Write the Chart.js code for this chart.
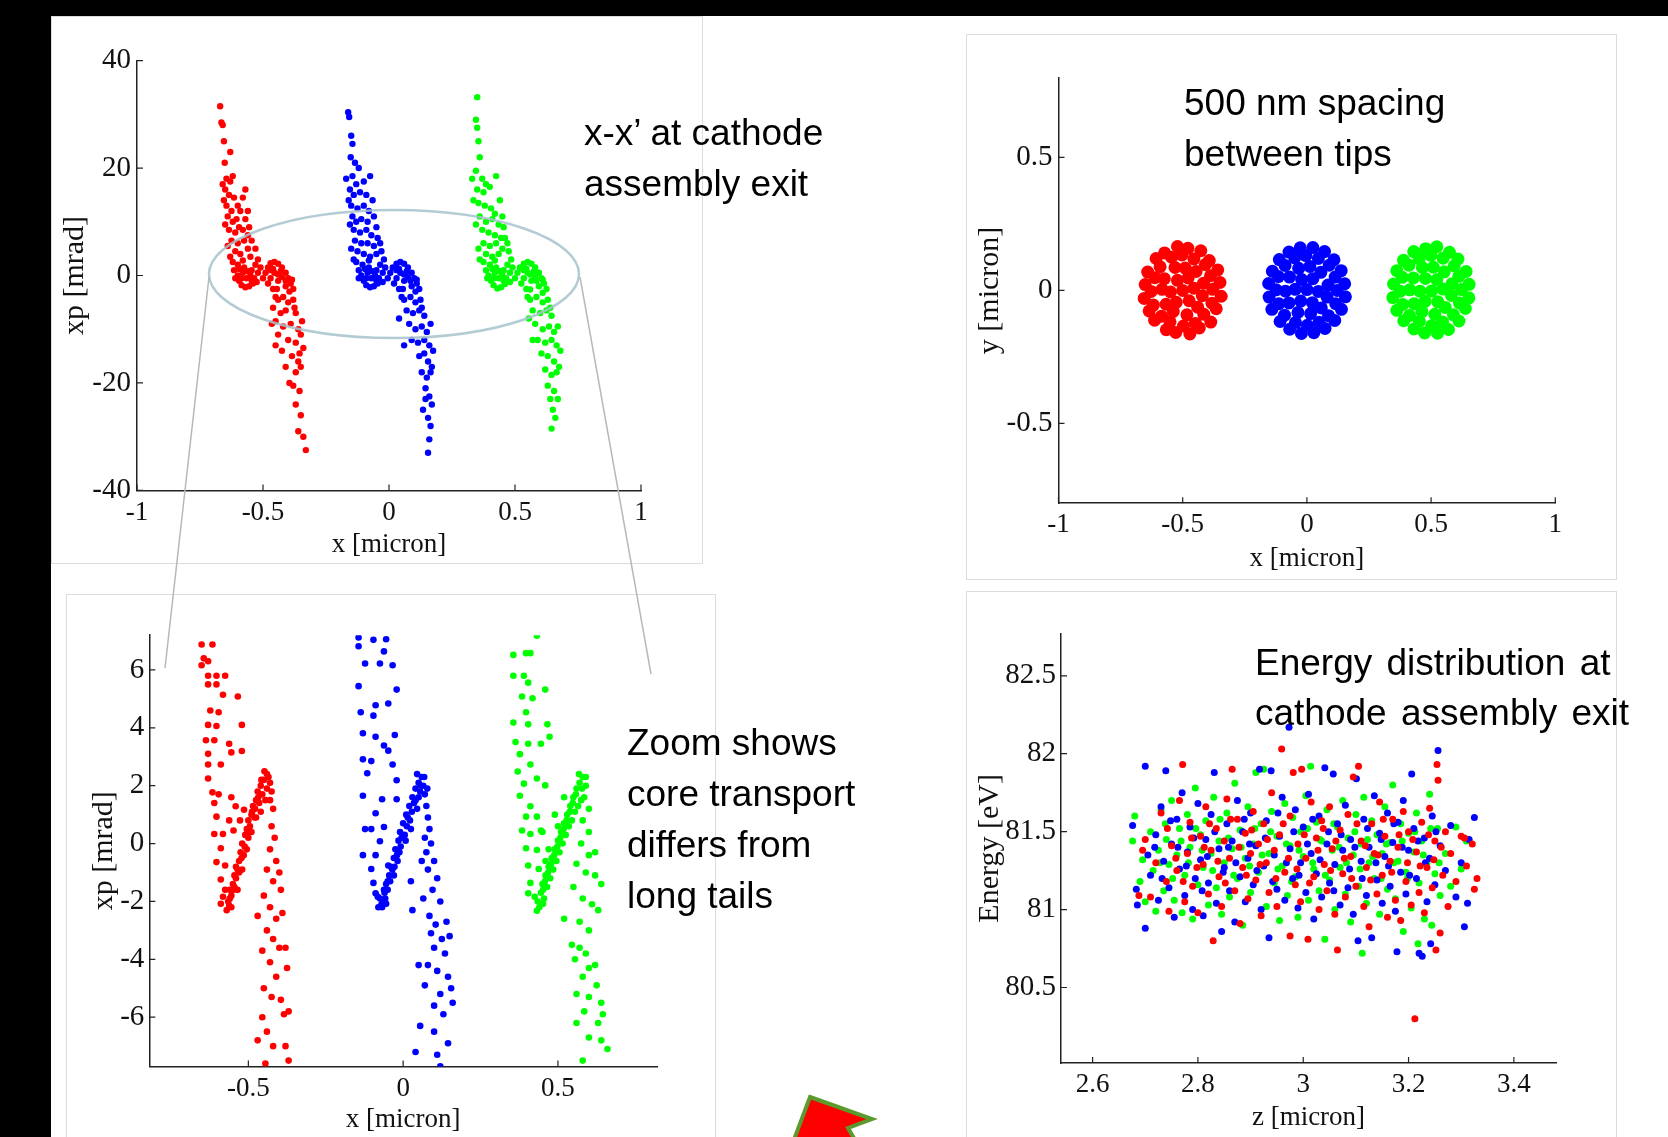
<!DOCTYPE html>
<html>
<head>
<meta charset="utf-8">
<script src="https://cdn.jsdelivr.net/npm/chart.js@4.4.1/dist/chart.umd.min.js"></script>
<style>
html, body { margin: 0; padding: 0; background: #000; }
#page { position: relative; width: 1668px; height: 1137px; overflow: hidden; background: #000; }
#slide { position: absolute; left: 51px; top: 16px; width: 1617px; height: 1121px; background: #fff; }
.panel { position: absolute; border: 1px solid #dcdcdc; box-sizing: border-box; }
canvas.chart { position: absolute; }
#overlay { position: absolute; left: 0; top: 0; pointer-events: none; }
.note { position: absolute; font-family: "Liberation Sans", Arial, sans-serif; font-size: 37px; line-height: 51px; color: #000; white-space: nowrap; }
</style>
</head>
<body>
<div id="page">
  <div id="slide"></div>
  <div class="panel" style="left:51px;top:16px;width:652px;height:548px"></div>
  <div class="panel" style="left:66px;top:594px;width:650px;height:560px"></div>
  <div class="panel" style="left:966px;top:34px;width:651px;height:546px"></div>
  <div class="panel" style="left:966px;top:591px;width:651px;height:560px"></div>
  <canvas class="chart" id="tl"></canvas>
  <canvas class="chart" id="bl"></canvas>
  <canvas class="chart" id="tr"></canvas>
  <canvas class="chart" id="br"></canvas>
  <canvas id="overlay" width="1668" height="1137"></canvas>
  <div class="note" style="left:584px;top:107px">x-x’ at cathode<br>assembly exit</div>
  <div class="note" style="left:1184px;top:77px">500 nm spacing<br>between tips</div>
  <div class="note" style="left:627px;top:717px">Zoom shows<br>core transport<br>differs from<br>long tails</div>
  <div class="note" style="left:1255px;top:638px;line-height:50px;word-spacing:4px">Energy distribution at<br>cathode assembly exit</div>
</div>
<script>
// x - xp at cathode assembly exit (micron, mrad)
var tlRed = [
[-0.67,31.5],[-0.665,28.5],[-0.66,28],[-0.655,25],[-0.63,23],[-0.652,21],[-0.645,18],[-0.63,17.5],[-0.62,18.5],[-0.65,16],[-0.635,15],[-0.615,14.5],[-0.645,13],[-0.625,12],[-0.6,13],[-0.64,11],[-0.62,10],[-0.605,10.5],[-0.59,12],[-0.635,8.5],[-0.61,8],[-0.595,9],[-0.58,8.5],[-0.625,6.5],[-0.6,6],[-0.575,6.5],[-0.56,5],[-0.61,4.5],[-0.59,4],[-0.55,3.5],
[-0.62,2.5],[-0.615,1],[-0.6,0],[-0.595,-1],[-0.585,-1.8],[-0.57,-2.2],[-0.555,-2],[-0.54,-1.5],[-0.6,2],[-0.58,0.5],[-0.565,-0.5],[-0.55,0],[-0.535,-0.5],[-0.52,0.5],[-0.61,-0.5],[-0.575,1.5],[-0.545,1],[-0.53,2],[-0.51,1.5],[-0.5,-0.5],
[-0.49,0.5],[-0.48,1.5],[-0.47,2.3],[-0.455,2.5],[-0.44,2.2],[-0.425,1.5],[-0.41,0.5],[-0.4,-0.5],[-0.39,-1.5],[-0.38,-2.5],[-0.47,-0.5],[-0.455,0.5],[-0.44,-1],[-0.425,-0.3],[-0.41,-2],[-0.46,1.2],[-0.43,0.8],[-0.395,-3],[-0.48,-1.5],[-0.445,-2.5],
[-0.44,-4.5],[-0.42,-4],[-0.4,-5],[-0.38,-4.5],[-0.46,-6],[-0.43,-7],[-0.41,-6.5],[-0.37,-7],[-0.45,-8.5],[-0.42,-9.5],[-0.39,-9],[-0.36,-10],[-0.44,-11],[-0.4,-12],[-0.37,-12.5],[-0.35,-11],[-0.425,-14],[-0.385,-15],[-0.355,-14.5],[-0.41,-17],[-0.37,-18],[-0.35,-17],[-0.395,-20],[-0.38,-20.5],[-0.355,-21.5],[-0.37,-24],[-0.35,-26],[-0.36,-29],[-0.34,-30],[-0.33,-32.5],
[-0.66,17],[-0.57,16],[-0.655,14],[-0.58,14.5],[-0.56,12],[-0.65,9.5],[-0.57,10.5],[-0.555,9],[-0.56,7.5],[-0.545,6.5],[-0.64,5.5],[-0.53,5],[-0.63,3.5],[-0.58,2.8],[-0.52,3],[-0.595,1.2],[-0.56,0.8],[-0.585,-0.5],[-0.545,-1],[-0.525,-1.2],[-0.47,1],[-0.44,0.2],[-0.41,-1],[-0.385,-0.8],[-0.46,-2.5],[-0.45,-4],[-0.375,-6],[-0.465,-9],[-0.345,-8.5],[-0.45,-13],[-0.34,-13.5],[-0.36,-16]
];
var tlBlue = [
[-0.162,30.4],[-0.158,29.5],[-0.15,26],[-0.145,24.5],[-0.152,22],[-0.135,21],[-0.12,20],[-0.145,18.5],[-0.13,17],[-0.1,17.5],[-0.155,16],[-0.14,15],[-0.115,15.5],[-0.09,15],[-0.15,13],[-0.125,12.5],[-0.1,13],[-0.08,12],[-0.145,11],[-0.13,10],[-0.11,10.5],[-0.085,10],[-0.14,8.5],[-0.115,8],[-0.09,8.5],[-0.07,7.5],[-0.135,6.5],[-0.11,6],[-0.085,6],[-0.06,5.5],[-0.125,4.5],[-0.1,4],[-0.075,3.5],[-0.05,4],
[-0.13,2.5],[-0.12,1],[-0.11,0],[-0.1,-1],[-0.09,-1.8],[-0.075,-2.2],[-0.06,-2],[-0.045,-1.5],[-0.105,2],[-0.085,0.5],[-0.07,-0.5],[-0.055,0],[-0.04,-0.5],[-0.025,0.5],[-0.12,-0.5],[-0.08,1.5],[-0.05,1],[-0.035,2],[-0.015,1.5],[-0.005,-0.5],
[0.005,0.5],[0.015,1.5],[0.03,2.2],[0.045,2.5],[0.06,2.2],[0.075,1.5],[0.09,0.5],[0.1,-0.5],[0.11,-1.5],[0.12,-2.5],[0.03,-0.5],[0.045,0.5],[0.06,-1],[0.075,-0.3],[0.09,-2],[0.04,1.2],[0.07,0.8],[0.105,-3],[0.02,-1.5],[0.055,-2.5],
[0.06,-4.5],[0.085,-4],[0.105,-5],[0.125,-4.5],[0.07,-6.5],[0.095,-7],[0.12,-6.5],[0.14,-7.5],[0.08,-9],[0.105,-10],[0.13,-9.5],[0.15,-10.5],[0.09,-12],[0.115,-12.5],[0.14,-12],[0.16,-13],[0.12,-15],[0.14,-14.5],[0.155,-16],[0.13,-18],[0.15,-19],[0.165,-18],[0.145,-21],[0.16,-22.5],[0.17,-24],[0.135,-25],[0.155,-26.5],[0.165,-28],[0.16,-30.5],[0.155,-33],
[-0.17,18],[-0.075,18.5],[-0.16,14],[-0.065,14],[-0.06,11],[-0.155,9.5],[-0.05,9],[-0.045,7],[-0.035,6],[-0.15,5],[-0.03,4.5],[-0.14,3],[-0.08,2.8],[-0.02,3],[-0.095,1.2],[-0.065,0.8],[-0.09,-0.5],[-0.05,-1],[-0.025,-1.2],[0.03,1],[0.06,0.2],[0.085,-1],[0.11,-0.8],[0.04,-2.5],[0.05,-4],[0.13,-6],[0.04,-8],[0.165,-9],[0.06,-13],[0.175,-14],[0.17,-17],[0.145,-23]
];
var tlGreen = [
[0.35,33.2],[0.345,29],[0.35,27.5],[0.355,25],[0.36,22],[0.345,19.5],[0.37,18],[0.385,17],[0.35,16],[0.375,15.5],[0.4,16.5],[0.355,13.5],[0.38,13],[0.405,12.5],[0.42,11.5],[0.36,11],[0.385,10],[0.41,10.5],[0.435,9.5],[0.37,8.5],[0.395,8],[0.42,7.5],[0.445,7],[0.375,6],[0.4,5.5],[0.425,6],[0.45,5],[0.385,4],[0.41,3.5],[0.435,4],
[0.375,2.5],[0.385,1],[0.395,0],[0.405,-1],[0.415,-1.8],[0.43,-2.4],[0.445,-2.2],[0.46,-1.6],[0.4,2],[0.42,0.5],[0.435,-0.5],[0.45,0],[0.465,-0.5],[0.48,0.5],[0.39,-0.5],[0.425,1.5],[0.455,1],[0.47,2],[0.49,1.5],[0.5,-0.5],
[0.51,0.5],[0.52,1.5],[0.535,2.2],[0.55,2.5],[0.565,2.2],[0.58,1.5],[0.595,0.5],[0.605,-0.5],[0.615,-1.5],[0.625,-2.5],[0.535,-0.5],[0.55,0.5],[0.565,-1],[0.58,-0.3],[0.595,-2],[0.545,1.2],[0.575,0.8],[0.61,-3.2],[0.525,-1.5],[0.56,-2.6],
[0.56,-4.5],[0.585,-4],[0.61,-5],[0.63,-4.5],[0.57,-6.5],[0.6,-7],[0.625,-6.5],[0.645,-7.5],[0.58,-9],[0.61,-10],[0.635,-9.5],[0.655,-10.5],[0.59,-12],[0.62,-12.5],[0.645,-12],[0.665,-13],[0.605,-14.5],[0.63,-15],[0.655,-16],[0.62,-17.5],[0.645,-18.5],[0.665,-18],[0.63,-20.5],[0.655,-21.5],[0.67,-23],[0.65,-25],[0.66,-26.5],[0.645,-28.5],
[0.33,18],[0.425,18.5],[0.335,14],[0.44,14],[0.45,11],[0.345,9.5],[0.455,9],[0.46,7],[0.47,6],[0.355,5],[0.475,4.5],[0.36,3],[0.42,2.8],[0.485,3],[0.41,1.2],[0.44,0.8],[0.415,-0.5],[0.455,-1],[0.48,-1.2],[0.535,1],[0.56,0.2],[0.585,-1],[0.61,-0.8],[0.545,-2.5],[0.55,-4],[0.64,-6],[0.555,-8],[0.67,-9.5],[0.57,-12],[0.68,-14],[0.675,-17],[0.64,-23]
];

// zoom of the core, same axes
var blRed = [
[-0.651,6.88],[-0.616,6.88],[-0.644,6.4],[-0.63,6.3],[-0.651,6.16],[-0.63,5.8],[-0.603,5.8],[-0.575,5.8],[-0.63,5.5],[-0.603,5.5],[-0.582,5.14],[-0.534,5.08],[-0.623,4.6],[-0.596,4.54],[-0.63,4.1],[-0.603,4.06],[-0.521,4.1],[-0.637,3.57],[-0.61,3.57],[-0.562,3.45],[-0.555,3.15],[-0.521,3.2],[-0.63,3.1],[-0.63,2.73],[-0.589,2.73],[-0.63,2.25],[-0.616,1.77],[-0.596,1.7],[-0.555,1.6],[-0.61,1.4],[-0.541,1.29],[-0.514,1.17],[-0.603,0.93],[-0.562,0.8],[-0.527,0.8],[-0.61,0.33],[-0.582,0.33],[-0.548,0.45],[-0.589,-0.16],[-0.603,-0.64],[-0.575,-0.76],[-0.589,-1.24],[-0.575,-1.6],[-0.589,-2.08],[-0.562,-2.14],[-0.582,-1.84],
[-0.565,-2.0],[-0.555,-1.8],[-0.55,-1.4],[-0.545,-1.1],[-0.54,-0.8],[-0.53,-0.6],[-0.525,-0.3],[-0.52,0.0],[-0.51,0.3],[-0.505,0.5],[-0.5,0.8],[-0.49,1.0],[-0.485,1.3],[-0.475,1.5],[-0.47,1.8],[-0.46,2.0],[-0.45,2.2],[-0.44,2.4],[-0.43,2.1],[-0.425,1.8],[-0.545,-1.5],[-0.53,-1.0],[-0.515,-0.4],[-0.5,0.2],[-0.48,0.9],[-0.465,1.4],[-0.455,1.7],[-0.44,1.9],[-0.555,-2.2],[-0.56,-1.6],
[-0.56,-1.9],[-0.548,-1.6],[-0.54,-1.2],[-0.535,-0.9],[-0.522,-0.5],[-0.512,-0.1],[-0.503,0.4],[-0.495,0.6],[-0.488,1.1],[-0.478,1.2],[-0.468,1.6],[-0.458,2.2],[-0.448,2.5],[-0.435,2.3],[-0.52,-0.9],[-0.505,-0.2],[-0.49,0.4],[-0.475,0.9],[-0.46,1.1],[-0.445,1.5],[-0.57,-2.3],[-0.535,-1.6],
[-0.43,1.5],[-0.42,1.2],[-0.425,0.6],[-0.415,0.2],[-0.43,-0.2],[-0.41,-0.6],[-0.44,-0.9],[-0.42,-1.3],[-0.4,-1.0],[-0.395,-1.6],[-0.45,-1.8],[-0.43,-2.2],[-0.41,-2.6],[-0.39,-2.4],[-0.47,-2.5],[-0.44,-3.0],[-0.42,-3.3],[-0.4,-3.6],[-0.455,-3.7],[-0.43,-4.1],[-0.38,-3.6],[-0.375,-4.3],[-0.41,-4.6],[-0.45,-5.0],[-0.425,-5.3],[-0.395,-5.4],[-0.37,-5.8],[-0.385,-5.9],[-0.455,-6.0],[-0.44,-6.5],[-0.42,-7.0],[-0.38,-7.0],[-0.445,-7.6],[-0.37,-7.5],[-0.47,-6.8]
];
var blBlue = [
[-0.144,7.12],[-0.096,7.04],[-0.055,7.06],[-0.144,6.82],[-0.062,6.64],[-0.123,6.22],[-0.075,6.22],[-0.034,6.16],[-0.144,5.44],[-0.021,5.32],[-0.137,4.54],[-0.089,4.78],[-0.048,4.84],[-0.096,4.42],[-0.13,3.81],[-0.089,3.69],[-0.027,3.75],[-0.062,3.39],[-0.048,3.21],[-0.13,2.91],[-0.103,2.85],[-0.034,2.73],[-0.116,2.43],[-0.021,2.19],[-0.13,1.65],[-0.068,1.53],[-0.021,1.53],[-0.089,1.05],[-0.123,0.5],[-0.103,0.5],[-0.062,0.57],[-0.075,0.08],[-0.13,-0.4],[-0.089,-0.4],[-0.103,-0.88],[-0.048,-0.76],[-0.096,-1.36],[-0.082,-1.84],[-0.068,-2.2],[-0.055,-2.08],[-0.089,-1.72],[-0.062,-1.6],
[-0.065,-2.0],[-0.06,-1.7],[-0.055,-1.4],[-0.045,-1.1],[-0.04,-0.8],[-0.03,-0.5],[-0.025,-0.2],[-0.015,0.1],[-0.01,0.4],[0.0,0.7],[0.01,1.0],[0.02,1.3],[0.03,1.6],[0.04,1.9],[0.05,2.1],[0.06,2.3],[0.065,2.0],[0.07,1.7],[-0.05,-1.6],[-0.035,-0.9],[-0.02,-0.4],[-0.005,0.2],[0.015,0.9],[0.035,1.4],[0.055,1.8],[0.075,1.3],[0.08,0.9],[0.085,0.5],[-0.075,-1.9],[0.045,2.4],
[-0.07,-2.1],[-0.058,-1.9],[-0.05,-1.3],[-0.042,-1.3],[-0.028,-0.8],[-0.018,-0.6],[-0.008,-0.1],[0.005,0.3],[0.012,0.6],[0.022,0.8],[0.028,1.1],[0.04,1.5],[0.05,1.6],[0.058,2.0],[0.068,2.3],[-0.03,-1.1],[-0.012,-0.3],[0.008,0.1],[0.025,0.5],[0.045,1.2],[-0.08,-2.2],[0.078,1.9],
[0.07,0.2],[0.09,0.0],[0.075,-0.3],[0.1,-0.6],[0.08,-0.9],[0.06,-0.6],[0.025,-1.3],[0.11,-1.2],[0.095,-1.6],[0.065,-1.9],[0.03,-2.3],[0.12,-2.0],[0.085,-2.5],[0.105,-2.8],[0.14,-2.7],[0.09,-3.1],[0.125,-3.3],[0.15,-3.2],[0.1,-3.6],[0.135,-3.8],[0.05,-4.2],[0.08,-4.2],[0.11,-4.4],[0.145,-4.6],[0.07,-4.9],[0.12,-5.2],[0.155,-5.0],[0.1,-5.6],[0.13,-5.9],[0.16,-5.5],[0.055,-6.3],[0.1,-6.5],[0.145,-6.9],[0.11,-7.3],[0.04,-7.2],[0.12,-7.7]
];
var blGreen = [
[0.432,7.18],[0.356,6.52],[0.397,6.58],[0.411,6.58],[0.356,5.8],[0.39,5.8],[0.404,5.56],[0.459,5.32],[0.384,5.08],[0.418,5.02],[0.397,4.54],[0.356,4.18],[0.404,4.12],[0.466,4.12],[0.363,3.51],[0.404,3.45],[0.445,3.45],[0.473,3.69],[0.377,3.09],[0.411,2.73],[0.37,2.49],[0.432,2.25],[0.39,2.07],[0.459,2.01],[0.377,1.65],[0.411,1.29],[0.397,0.93],[0.432,0.93],[0.384,0.45],[0.411,0.33],[0.445,0.45],[0.397,-0.16],[0.432,-0.22],[0.404,-0.76],[0.438,-0.88],[0.411,-1.36],[0.425,-1.84],[0.432,-2.32],[0.452,-2.08],[0.404,-1.72],
[0.435,-2.0],[0.445,-1.7],[0.45,-1.4],[0.46,-1.1],[0.47,-0.8],[0.48,-0.5],[0.49,-0.2],[0.5,0.1],[0.51,0.4],[0.52,0.7],[0.53,1.0],[0.54,1.3],[0.55,1.6],[0.56,1.9],[0.57,2.1],[0.58,2.3],[0.59,2.0],[0.585,1.6],[0.455,-1.9],[0.475,-1.2],[0.495,-0.6],[0.515,0.0],[0.535,0.6],[0.555,1.1],[0.575,1.5],[0.47,-0.2],[0.5,0.6],[0.45,0.4],[0.49,1.0],[0.52,1.6],[0.46,-0.6],[0.6,1.2],
[0.44,-2.2],[0.452,-1.6],[0.458,-1.3],[0.468,-1.0],[0.478,-0.7],[0.488,-0.4],[0.498,-0.1],[0.508,0.2],[0.518,0.5],[0.528,0.8],[0.538,1.1],[0.548,1.4],[0.558,1.7],[0.568,2.4],[0.578,1.9],[0.465,-1.5],[0.485,-0.9],[0.505,-0.3],[0.525,0.3],[0.545,0.8],[0.565,1.3],[0.59,2.3],
[0.58,0.8],[0.6,0.4],[0.575,0.0],[0.6,-0.4],[0.62,-0.3],[0.56,-0.7],[0.59,-1.0],[0.62,-1.1],[0.64,-1.4],[0.55,-1.5],[0.58,-1.9],[0.61,-2.1],[0.63,-2.3],[0.52,-2.6],[0.57,-2.7],[0.6,-3.0],[0.545,-3.5],[0.57,-3.6],[0.59,-3.8],[0.555,-4.0],[0.6,-4.3],[0.62,-4.2],[0.58,-4.6],[0.625,-4.9],[0.56,-5.2],[0.6,-5.3],[0.64,-5.5],[0.585,-5.8],[0.63,-6.2],[0.56,-6.2],[0.6,-6.7],[0.64,-6.8],[0.66,-7.1],[0.58,-7.5],[0.645,-5.9]
];

// x - y at the tips (micron)
var trRed = [
[-0.5,0.0],[-0.455,0.008],[-0.478,0.047],[-0.521,0.038],[-0.549,-0.006],[-0.526,-0.045],[-0.474,-0.039],
[-0.416,0.027],[-0.446,0.071],[-0.49,0.084],[-0.531,0.086],[-0.574,0.044],[-0.583,0.004],[-0.567,-0.052],[-0.538,-0.079],[-0.483,-0.092],[-0.44,-0.063],[-0.421,-0.02],
[-0.379,0.004],[-0.388,0.055],[-0.409,0.097],[-0.455,0.118],[-0.503,0.133],[-0.545,0.125],[-0.591,0.089],[-0.612,0.048],[-0.627,-0.004],[-0.618,-0.055],[-0.585,-0.097],[-0.551,-0.118],[-0.497,-0.134],[-0.449,-0.124],[-0.415,-0.09],[-0.382,-0.048],
[-0.35,0.03],[-0.359,0.077],[-0.393,0.112],[-0.427,0.149],[-0.479,0.158],[-0.521,0.165],[-0.573,0.141],[-0.607,0.12],[-0.641,0.069],[-0.651,0.022],[-0.655,-0.03],[-0.635,-0.077],[-0.613,-0.112],[-0.566,-0.148],[-0.528,-0.158],[-0.471,-0.164],[-0.433,-0.141],[-0.387,-0.119],[-0.365,-0.069],[-0.345,-0.022]
];
var trBlue = [
[0.0,0.003],[0.046,-0.004],[0.024,0.044],[-0.021,0.041],[-0.047,0.004],[-0.025,-0.04],[0.022,-0.046],
[0.085,0.02],[0.056,0.068],[0.012,0.09],[-0.033,0.083],[-0.07,0.05],[-0.086,-0.003],[-0.072,-0.047],[-0.036,-0.083],[0.015,-0.087],[0.058,-0.066],[0.081,-0.025],
[0.122,0.0],[0.114,0.05],[0.09,0.095],[0.046,0.12],[-0.004,0.131],[-0.049,0.122],[-0.088,0.094],[-0.115,0.052],[-0.124,0.002],[-0.113,-0.05],[-0.09,-0.093],[-0.046,-0.121],[0.002,-0.131],[0.049,-0.12],[0.087,-0.095],[0.116,-0.05],
[0.152,0.025],[0.138,0.074],[0.109,0.115],[0.071,0.146],[0.024,0.161],[-0.027,0.16],[-0.072,0.144],[-0.111,0.116],[-0.139,0.072],[-0.154,0.026],[-0.152,-0.025],[-0.141,-0.071],[-0.108,-0.117],[-0.069,-0.146],[-0.022,-0.162],[0.028,-0.159],[0.073,-0.143],[0.112,-0.113],[0.139,-0.071],[0.155,-0.024]
];
var trGreen = [
[0.502,-0.002],[0.548,0.005],[0.523,0.04],[0.477,0.045],[0.455,-0.003],[0.476,-0.041],[0.527,-0.043],
[0.584,0.025],[0.553,0.07],[0.509,0.087],[0.465,0.086],[0.429,0.047],[0.414,0.002],[0.432,-0.05],[0.463,-0.08],[0.515,-0.09],[0.557,-0.064],[0.582,-0.019],
[0.623,0.003],[0.612,0.053],[0.593,0.092],[0.548,0.121],[0.499,0.132],[0.452,0.119],[0.411,0.095],[0.384,0.049],[0.376,-0.003],[0.386,-0.053],[0.413,-0.094],[0.453,-0.117],[0.502,-0.133],[0.546,-0.119],[0.59,-0.092],[0.614,-0.047],
[0.653,0.023],[0.641,0.071],[0.608,0.118],[0.574,0.143],[0.523,0.164],[0.478,0.157],[0.43,0.146],[0.389,0.113],[0.362,0.074],[0.349,0.024],[0.346,-0.027],[0.362,-0.075],[0.39,-0.114],[0.431,-0.145],[0.474,-0.16],[0.526,-0.161],[0.57,-0.147],[0.612,-0.115],[0.638,-0.068],[0.652,-0.028]
];

// z - energy at cathode assembly exit (micron, eV)
var brRed = [
[2.688,81.09],[2.695,81.38],[2.70,81.45],[2.71,81.08],[2.72,81.30],[2.73,81.62],[2.74,81.18],[2.745,80.99],[2.75,81.41],[2.76,81.25],[2.765,81.70],[2.771,81.93],[2.775,81.05],[2.78,81.36],[2.785,81.56],[2.79,81.15],[2.80,80.98],[2.805,81.47],[2.81,81.29],[2.815,81.66],[2.82,81.10],[2.825,81.38],[2.829,80.80],[2.835,81.52],[2.84,81.21],[2.845,81.02],[2.85,81.44],[2.855,81.71],[2.86,81.33],[2.865,81.90],[2.87,81.12],[2.875,81.58],[2.88,80.91],[2.885,81.27],[2.89,81.49],[2.895,81.07],[2.90,81.36],[2.905,81.63],[2.91,81.19],[2.915,81.42],[2.92,80.96],[2.925,81.55],[2.93,81.30],[2.935,81.11],[2.94,81.75],[2.945,81.38],[2.95,81.02],[2.955,81.48],[2.959,82.03],[2.965,81.24],[2.975,80.83],[2.975,81.60],[2.981,81.88],[2.985,81.16],[2.99,81.42],[2.995,81.05],[2.997,81.90],[3.005,81.33],[3.009,80.81],[3.015,81.69],[3.02,81.21],[3.025,81.46],[3.03,81.00],[3.035,81.57],[3.04,81.29],[3.045,81.12],[3.05,81.66],[3.055,81.39],[3.06,80.97],[3.065,80.74],[3.07,81.51],[3.075,81.23],[3.08,81.08],[3.085,81.61],[3.09,81.34],[3.095,81.85],[3.10,81.15],[3.105,81.92],[3.11,81.44],[3.115,81.02],[3.12,81.27],[3.125,80.89],[3.13,81.55],[3.135,81.36],[3.14,81.10],[3.145,81.69],[3.15,81.22],[3.155,81.47],[3.16,80.95],[3.165,81.31],[3.17,81.58],[3.175,81.06],[3.18,81.40],[3.185,80.93],[3.19,81.63],[3.195,81.18],[3.20,81.50],[3.205,81.03],[3.212,80.30],[3.215,81.37],[3.22,81.11],[3.225,81.56],[3.23,80.98],[3.235,81.27],[3.24,81.65],[3.245,81.14],[3.252,80.74],[3.25,81.44],[3.254,81.93],[3.256,81.83],[3.26,80.85],[3.265,81.22],[3.27,81.50],[3.275,81.02],[3.28,81.36],[3.29,81.18],[3.30,81.47],[3.306,81.46],[3.31,81.28],[3.321,81.42],[3.325,81.13],[3.33,81.20],
[2.742,81.52],[2.758,81.33],[2.772,81.18],[2.788,81.46],[2.798,81.27],[2.812,81.40],[2.822,81.55],[2.838,81.31],[2.852,81.17],[2.862,81.58],[2.878,81.40],[2.892,81.22],[2.902,81.51],[2.918,81.29],[2.932,81.45],[2.948,81.20],[2.962,81.55],[2.972,81.33],[2.988,81.26],[3.002,81.48],[3.012,81.17],[3.028,81.38],[3.038,81.52],[3.052,81.25],[3.062,81.44],[3.078,81.33],[3.092,81.20],[3.102,81.55],[3.118,81.41],[3.128,81.19],[3.142,81.35],[3.152,81.58],[3.168,81.24],[3.182,81.48],[3.198,81.30],[3.208,81.45],[3.222,81.28],[3.238,81.48],[3.248,81.32],[3.262,81.40]
];
var brBlue = [
[2.676,81.54],[2.683,81.13],[2.685,81.03],[2.70,81.92],[2.70,80.88],[2.705,81.35],[2.71,81.22],[2.72,81.48],[2.725,81.06],[2.73,81.66],[2.735,81.31],[2.739,81.89],[2.745,81.14],[2.75,81.42],[2.755,80.95],[2.76,81.58],[2.765,81.26],[2.77,81.75],[2.775,81.09],[2.78,81.37],[2.785,81.53],[2.79,81.00],[2.795,81.20],[2.80,81.68],[2.805,81.32],[2.81,80.96],[2.815,81.45],[2.82,81.17],[2.825,81.61],[2.831,81.88],[2.835,81.04],[2.84,81.39],[2.845,80.86],[2.85,81.27],[2.855,81.55],[2.86,81.12],[2.865,81.44],[2.87,80.92],[2.875,81.70],[2.88,81.21],[2.885,81.50],[2.89,81.05],[2.895,81.33],[2.90,81.62],[2.905,81.16],[2.91,81.41],[2.917,81.90],[2.92,81.00],[2.925,81.28],[2.93,81.57],[2.935,80.82],[2.939,81.89],[2.945,81.35],[2.95,81.13],[2.955,81.47],[2.96,81.72],[2.965,81.06],[2.973,82.17],[2.975,81.39],[2.98,81.20],[2.985,81.64],[2.99,81.01],[2.995,81.30],[3.00,81.53],[3.005,81.11],[3.01,81.74],[3.015,81.36],[3.02,80.94],[3.025,81.23],[3.03,81.60],[3.035,81.08],[3.041,81.91],[3.045,81.42],[3.05,81.17],[3.057,81.87],[3.06,81.29],[3.065,81.55],[3.07,81.03],[3.075,81.38],[3.08,81.67],[3.085,81.14],[3.09,81.45],[3.095,80.97],[3.101,81.84],[3.104,80.80],[3.11,81.31],[3.115,81.58],[3.12,81.09],[3.125,81.40],[3.13,80.82],[3.135,81.73],[3.14,81.19],[3.145,81.49],[3.15,81.04],[3.155,81.34],[3.16,81.62],[3.165,81.15],[3.17,81.43],[3.175,80.99],[3.178,80.73],[3.18,81.56],[3.185,81.24],[3.19,81.70],[3.195,81.10],[3.20,81.38],[3.206,81.87],[3.21,81.52],[3.215,81.20],[3.22,80.72],[3.226,80.70],[3.23,81.46],[3.235,81.05],[3.24,81.33],[3.242,80.78],[3.245,81.60],[3.25,81.16],[3.256,82.02],[3.26,81.41],[3.27,81.25],[3.28,81.54],[3.29,81.08],[3.30,81.30],[3.306,80.89],[3.312,81.04],[3.315,81.45],[3.325,81.59],
[2.718,81.40],[2.732,81.20],[2.748,81.57],[2.762,81.40],[2.778,81.28],[2.792,81.46],[2.808,81.12],[2.818,81.34],[2.832,81.50],[2.848,81.24],[2.858,81.40],[2.872,81.30],[2.888,81.58],[2.898,81.42],[2.912,81.25],[2.928,81.46],[2.942,81.18],[2.952,81.62],[2.968,81.30],[2.982,81.50],[2.992,81.22],[3.008,81.42],[3.018,81.58],[3.032,81.32],[3.048,81.50],[3.058,81.12],[3.072,81.48],[3.088,81.26],[3.098,81.40],[3.112,81.20],[3.122,81.52],[3.138,81.30],[3.148,81.45],[3.162,81.28],[3.172,81.55],[3.188,81.40],[3.202,81.22],[3.218,81.44],[3.232,81.30],[3.252,81.50]
];
var brGreen = [
[2.676,81.44],[2.68,81.60],[2.69,81.18],[2.695,81.32],[2.70,81.05],[2.71,81.50],[2.715,81.25],[2.72,80.99],[2.725,81.38],[2.73,81.64],[2.735,81.12],[2.74,81.45],[2.745,81.29],[2.75,81.70],[2.755,81.06],[2.76,81.35],[2.765,81.52],[2.77,80.98],[2.775,81.22],[2.78,81.61],[2.785,81.40],[2.79,80.94],[2.795,81.78],[2.80,81.16],[2.805,81.48],[2.81,81.27],[2.815,81.57],[2.82,81.03],[2.825,81.36],[2.83,81.72],[2.835,81.14],[2.84,81.44],[2.845,80.97],[2.85,81.30],[2.855,81.62],[2.86,81.08],[2.865,81.39],[2.87,81.81],[2.875,81.20],[2.88,81.51],[2.885,80.90],[2.89,81.33],[2.895,81.66],[2.90,81.11],[2.905,81.42],[2.91,81.88],[2.915,81.24],[2.92,81.55],[2.925,81.90],[2.93,81.02],[2.935,81.36],[2.94,81.63],[2.945,81.17],[2.95,81.47],[2.955,80.93],[2.96,81.28],[2.965,81.68],[2.97,81.09],[2.975,81.41],[2.98,81.59],[2.985,81.21],[2.99,80.95],[2.995,81.50],[3.00,81.34],[3.005,81.73],[3.01,81.06],[3.014,81.92],[3.02,81.26],[3.025,81.56],[3.03,81.12],[3.035,81.44],[3.041,80.81],[3.045,81.64],[3.05,81.19],[3.055,81.38],[3.06,81.00],[3.065,81.53],[3.07,81.27],[3.075,81.70],[3.08,81.10],[3.085,81.46],[3.09,80.92],[3.095,81.35],[3.10,81.61],[3.105,81.15],[3.11,81.42],[3.112,80.72],[3.115,81.72],[3.12,81.04],[3.125,81.30],[3.13,81.57],[3.135,81.20],[3.14,81.48],[3.145,80.97],[3.15,81.36],[3.155,81.66],[3.16,81.13],[3.165,81.43],[3.17,81.80],[3.175,81.07],[3.18,81.31],[3.185,81.55],[3.19,80.86],[3.195,81.24],[3.20,81.49],[3.205,81.01],[3.21,81.37],[3.215,81.62],[3.218,80.78],[3.22,81.17],[3.225,81.44],[3.23,80.94],[3.235,81.30],[3.24,81.74],[3.244,80.90],[3.25,81.23],[3.255,81.52],[3.26,81.09],[3.27,81.36],[3.28,81.15],[3.29,81.53],[3.30,81.26],[3.31,81.44],
[2.728,81.30],[2.738,81.55],[2.752,81.20],[2.768,81.44],[2.782,81.30],[2.796,81.52],[2.808,81.38],[2.828,81.25],[2.842,81.58],[2.858,81.46],[2.868,81.22],[2.882,81.40],[2.898,81.28],[2.908,81.52],[2.922,81.35],[2.938,81.50],[2.952,81.26],[2.968,81.42],[2.978,81.18],[2.992,81.38],[3.008,81.52],[3.018,81.30],[3.032,81.45],[3.042,81.22],[3.058,81.55],[3.068,81.40],[3.082,81.30],[3.098,81.50],[3.108,81.26],[3.122,81.45],[3.132,81.34],[3.148,81.20],[3.158,81.42],[3.172,81.30],[3.188,81.44],[3.198,81.20],[3.212,81.50],[3.228,81.35],[3.242,81.52],[3.258,81.30]
];

// tick values
var tlXTicks = [-1, -0.5, 0, 0.5, 1];
var tlYTicks = [-40, -20, 0, 20, 40];
var blXTicks = [-0.5, 0, 0.5];
var blYTicks = [-6, -4, -2, 0, 2, 4, 6];
var trXTicks = [-1, -0.5, 0, 0.5, 1];
var trYTicks = [-0.5, 0, 0.5];
var brXTicks = [2.6, 2.8, 3, 3.2, 3.4];
var brYTicks = [80.5, 81, 81.5, 82, 82.5];

var RED = '#ff0000', BLUE = '#0000ff', GREEN = '#00ff00';

Chart.defaults.font.family = '"Liberation Serif", "Times New Roman", serif';
Chart.defaults.font.size = 27;
Chart.defaults.color = '#111';

// matlab style ticks pointing inward
var inTicks = {
    id: 'inTicks',
    afterDraw: function(chart) {
        var ctx = chart.ctx, a = chart.chartArea;
        var xs = chart.scales.x, ys = chart.scales.y;
        ctx.save();
        ctx.strokeStyle = '#222';
        ctx.lineWidth = 1.2;
        ctx.beginPath();
        xs.ticks.forEach(function(t) {
            var p = xs.getPixelForValue(t.value);
            ctx.moveTo(p, a.bottom); ctx.lineTo(p, a.bottom - 6);
        });
        ys.ticks.forEach(function(t) {
            var p = ys.getPixelForValue(t.value);
            ctx.moveTo(a.left, p); ctx.lineTo(a.left + 6, p);
        });
        ctx.stroke();
        ctx.restore();
    }
};

function fixSize(prop, v) {
    return function(scale) {
        scale[prop] = v;
        scale.paddingLeft = 0; scale.paddingRight = 0;
        scale.paddingTop = 0; scale.paddingBottom = 0;
    };
}

function makeChart(id, box, area, c, sets) {
    var cv = document.getElementById(id);
    cv.width = box[2]; cv.height = box[3];
    cv.style.left = box[0] + 'px'; cv.style.top = box[1] + 'px';
    cv.style.width = box[2] + 'px'; cv.style.height = box[3] + 'px';

    new Chart(cv.getContext('2d'), {
        type: 'scatter',
        data: {
            datasets: sets.map(function(s) {
                return {
                    data: s[0].map(function(p) { return {x: p[0], y: p[1]}; }),
                    backgroundColor: s[1],
                    borderWidth: 0,
                    pointRadius: c.r,
                    pointHoverRadius: c.r
                };
            })
        },
        options: {
            responsive: false,
            animation: false,
            events: [],
            layout: {
                padding: {
                    left: area[0] - box[0] - c.wy,
                    top: area[1] - box[1],
                    right: box[0] + box[2] - area[2],
                    bottom: box[1] + box[3] - area[3] - c.hx
                }
            },
            plugins: { legend: { display: false }, tooltip: { enabled: false } },
            scales: {
                x: {
                    type: 'linear', min: c.xMin, max: c.xMax,
                    grid: { display: false, drawTicks: false },
                    border: { color: '#222', width: 1.5 },
                    ticks: { padding: 6, callback: function(v) { return String(v); } },
                    afterBuildTicks: function(s) { s.ticks = c.xTicks.map(function(v) { return {value: v}; }); },
                    afterFit: fixSize('height', c.hx),
                    title: { display: true, text: c.xTitle, font: { size: 27 }, padding: { top: 0, bottom: 0 } }
                },
                y: {
                    type: 'linear', min: c.yMin, max: c.yMax,
                    grid: { display: false, drawTicks: false },
                    border: { color: '#222', width: 1.5 },
                    ticks: { padding: c.yPad, font: { size: 29 }, callback: function(v) { return String(v); } },
                    afterBuildTicks: function(s) { s.ticks = c.yTicks.map(function(v) { return {value: v}; }); },
                    afterFit: fixSize('width', c.wy),
                    title: { display: true, text: c.yTitle, font: { size: 30 }, padding: { top: c.tPad, bottom: 0 } }
                }
            }
        },
        plugins: [inTicks]
    });
}

makeChart('tl', [51, 16, 652, 548], [137, 60.6, 641, 490.4],
    { xMin: -1, xMax: 1, yMin: -40, yMax: 40, xTicks: tlXTicks, yTicks: tlYTicks,
      xTitle: 'x [micron]', yTitle: 'xp [mrad]', wy: 80, hx: 70.5, yPad: 6, tPad: 0, r: 3.2 },
    [[tlRed, RED], [tlBlue, BLUE], [tlGreen, GREEN]]);

makeChart('bl', [66, 594, 650, 543], [149.3, 635.2, 657, 1066.4],
    { xMin: -0.82, xMax: 0.82, yMin: -7.7, yMax: 7.2, xTicks: blXTicks, yTicks: blYTicks,
      xTitle: 'x [micron]', yTitle: 'xp [mrad]', wy: 63, hx: 70, yPad: 5, tPad: 0, r: 3.3 },
    [[blRed, RED], [blBlue, BLUE], [blGreen, GREEN]]);

makeChart('tr', [966, 34, 651, 546], [1058.5, 77.6, 1555.3, 503.2],
    { xMin: -1, xMax: 1, yMin: -0.8, yMax: 0.8, xTicks: trXTicks, yTicks: trYTicks,
      xTitle: 'x [micron]', yTitle: 'y [micron]', wy: 86, hx: 71.5, yPad: 6, tPad: 0, r: 6.5 },
    [[trRed, RED], [trBlue, BLUE], [trGreen, GREEN]]);

makeChart('br', [966, 591, 651, 546], [1061, 633.7, 1556, 1063.1],
    { xMin: 2.54, xMax: 3.48, yMin: 80.015, yMax: 82.77, xTicks: brXTicks, yTicks: brYTicks,
      xTitle: 'z [micron]', yTitle: 'Energy [eV]', wy: 89, hx: 71, yPad: 5, tPad: 0, r: 3.5 },
    [[brRed, RED], [brBlue, BLUE], [brGreen, GREEN]]);

// zoom ellipse, funnel lines and arrow
var g = document.getElementById('overlay').getContext('2d');
g.globalAlpha = 0.85;
g.strokeStyle = '#a6c3cc';
g.lineWidth = 2.5;
g.beginPath();
g.ellipse(394, 274, 185, 64, 0, 0, 2 * Math.PI);
g.stroke();
g.globalAlpha = 1;
g.strokeStyle = '#b8b8b8';
g.lineWidth = 1.5;
g.beginPath();
g.moveTo(209, 277); g.lineTo(165, 668);
g.moveTo(580, 277); g.lineTo(651, 674);
g.stroke();

g.beginPath();
g.moveTo(810, 1097); g.lineTo(872, 1119); g.lineTo(848, 1128);
g.lineTo(858, 1145); g.lineTo(792, 1145); g.closePath();
g.fillStyle = '#ff0000';
g.fill();
g.strokeStyle = '#5b9a2c';
g.lineWidth = 4;
g.stroke();
</script>
</body>
</html>
